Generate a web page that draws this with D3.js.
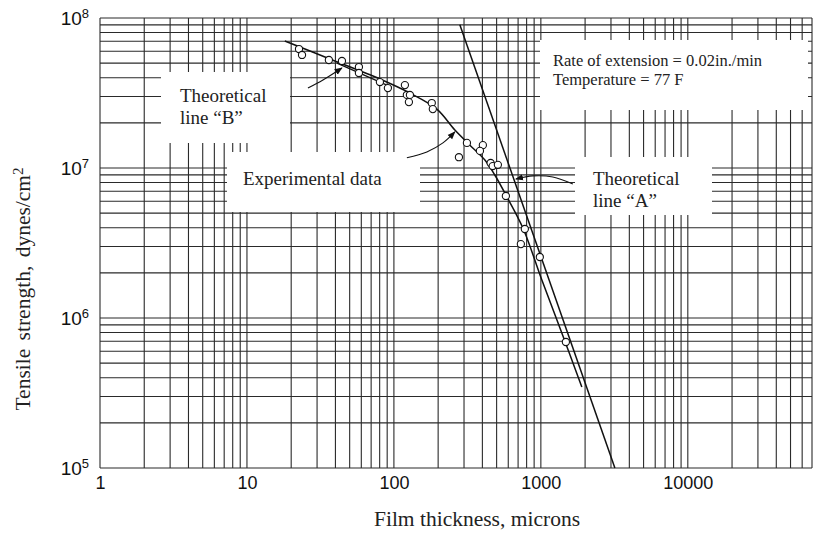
<!DOCTYPE html>
<html>
<head>
<meta charset="utf-8">
<script src="https://cdn.jsdelivr.net/npm/d3@7"></script>
<style>
  body { margin: 0; background: #fff; }
  svg { display: block; }
</style>
</head>
<body>
<svg id="chart" width="816" height="535"></svg>
<script>
// Experimental data points (film thickness in microns, tensile strength in dynes/cm2)
const pointX = [22.6, 23.7, 36.1, 44.3, 57.8, 57.8, 80.3, 91, 118.8, 122.5, 128.5, 126.5,
                181, 184, 314, 277, 403, 385, 455, 470, 510, 578, 778, 731, 984, 1480];
const pointY = [6.21e7, 5.67e7, 5.25e7, 5.17e7, 4.71e7, 4.30e7, 3.74e7, 3.41e7, 3.57e7, 3.07e7, 3.07e7, 2.75e7,
                2.71e7, 2.47e7, 1.47e7, 1.18e7, 1.42e7, 1.30e7, 1.08e7, 1.03e7, 1.05e7, 6.51e6, 3.92e6, 3.11e6, 2.55e6, 6.92e5];

// Experimental curve through the data
const curveX = [18.1, 36.7, 80.3, 128.5, 196, 260, 329, 416, 486, 578, 755, 1016, 1389, 1900];
const curveY = [7.03e7, 5.33e7, 3.92e7, 3.16e7, 2.47e7, 1.79e7, 1.42e7, 1.13e7, 8.98e6, 6.61e6, 3.98e6, 1.79e6, 7.94e5, 3.47e5];

// Theoretical lines
const lineAX = [281, 3190];
const lineAY = [9.0e7, 1.0e5];
const lineBX = [41, 97];
const lineBY = [5.0e7, 3.45e7];

// Annotation arrows (tail first, head last)
const arrowBX = [26.0, 32.9, 44.3];
const arrowBY = [3.41e7, 3.86e7, 4.64e7];
const arrowExpX = [122.5, 167.6, 215.6, 260];
const arrowExpY = [1.17e7, 1.28e7, 1.47e7, 1.74e7];
const arrowAX = [1651, 1207, 883, 676];
const arrowAY = [7.82e6, 8.71e6, 8.86e6, 8.45e6];

// Axis ticks
const xTicks = [1, 10, 100, 1000, 10000];
const yTicks = [1e5, 1e6, 1e7, 1e8];
const xMax = 70000;

const svg = d3.select("#chart");

const x = d3.scaleLog().domain([1, xMax]).range([100, 812]);
const y = d3.scaleLog().domain([1e5, 1e8]).range([468, 18]);

// Log grid lines (1..9 in every decade)
const xGrid = [];
for (let d = 1; d <= 10000; d *= 10) {
    for (let k = 1; k <= 9; k++) if (d * k <= xMax) xGrid.push(d * k);
}
const yGrid = [];
for (let d = 1e5; d <= 1e8; d *= 10) {
    for (let k = 1; k <= 9; k++) if (d * k <= 1e8) yGrid.push(d * k);
}

const grid = svg.append("g")
    .attr("stroke", "#2a2a2a")
    .attr("stroke-width", 1.1);

grid.selectAll(".gx")
    .data(xGrid)
    .enter().append("line")
    .attr("x1", d => x(d)).attr("x2", d => x(d))
    .attr("y1", y(1e8)).attr("y2", y(1e5));

grid.selectAll(".gy")
    .data(yGrid)
    .enter().append("line")
    .attr("x1", x(1)).attr("x2", x(xMax))
    .attr("y1", d => y(d)).attr("y2", d => y(d));

// White label boxes that blank out the grid
const boxes = [
    [161, 72, 129, 71],
    [227, 152, 193, 60],
    [540, 40, 268, 70],
    [575, 157, 137, 58]
];
svg.append("g").selectAll("rect")
    .data(boxes)
    .enter().append("rect")
    .attr("x", d => d[0]).attr("y", d => d[1])
    .attr("width", d => d[2]).attr("height", d => d[3])
    .attr("fill", "#fff");

// Lines
const line = d3.line().x(d => x(d[0])).y(d => y(d[1]));

svg.append("path")
    .datum(d3.zip(curveX, curveY))
    .attr("d", line.curve(d3.curveCatmullRom))
    .attr("fill", "none")
    .attr("stroke", "#111")
    .attr("stroke-width", 1.5);

svg.append("path")
    .datum(d3.zip(lineAX, lineAY))
    .attr("d", d3.line().x(d => x(d[0])).y(d => y(d[1])))
    .attr("fill", "none")
    .attr("stroke", "#111")
    .attr("stroke-width", 1.5);

svg.append("path")
    .datum(d3.zip(lineBX, lineBY))
    .attr("d", d3.line().x(d => x(d[0])).y(d => y(d[1])))
    .attr("fill", "none")
    .attr("stroke", "#111")
    .attr("stroke-width", 1.2);

// Arrow marker
svg.append("defs").append("marker")
    .attr("id", "arrow")
    .attr("viewBox", "0 0 10 10")
    .attr("refX", 9).attr("refY", 5)
    .attr("markerWidth", 8).attr("markerHeight", 8)
    .attr("markerUnits", "userSpaceOnUse")
    .attr("orient", "auto")
    .append("path")
    .attr("d", "M0,1L10,5L0,9Z")
    .attr("fill", "#111");

const arrowLine = d3.line().x(d => x(d[0])).y(d => y(d[1])).curve(d3.curveCatmullRom);
[[arrowBX, arrowBY], [arrowExpX, arrowExpY], [arrowAX, arrowAY]].forEach(a => {
    svg.append("path")
        .datum(d3.zip(a[0], a[1]))
        .attr("d", arrowLine)
        .attr("fill", "none")
        .attr("stroke", "#111")
        .attr("stroke-width", 1.1)
        .attr("marker-end", "url(#arrow)");
});

// Data points
svg.append("g").selectAll("circle")
    .data(d3.zip(pointX, pointY))
    .enter().append("circle")
    .attr("cx", d => x(d[0]))
    .attr("cy", d => y(d[1]))
    .attr("r", 3.6)
    .attr("fill", "#fff")
    .attr("stroke", "#111")
    .attr("stroke-width", 1.1);

// Axes
const xAxis = svg.append("g")
    .attr("transform", `translate(0,${y(1e5)})`)
    .call(d3.axisBottom(x).tickValues(xTicks).tickFormat(d3.format("d")).tickSize(0));
xAxis.select(".domain").remove();
xAxis.selectAll("text")
    .attr("y", 21).attr("dy", 0)
    .attr("fill", "#111")
    .style("font-family", "'Liberation Sans', Arial, sans-serif")
    .style("font-size", "18px");

const yAxis = svg.append("g")
    .attr("transform", `translate(${x(1)},0)`)
    .call(d3.axisLeft(y).tickValues(yTicks).tickSize(0));
yAxis.select(".domain").remove();
yAxis.selectAll("text")
    .attr("x", -11).attr("dy", "0.35em")
    .attr("fill", "#111")
    .style("font-family", "'Liberation Sans', Arial, sans-serif")
    .style("font-size", "19px")
    .each(function(d) {
        const t = d3.select(this).text("10");
        t.append("tspan")
            .attr("dy", "-0.55em")
            .style("font-size", "13px")
            .text(Math.round(Math.log10(d)));
    });

// Axis titles
const serif = "'Liberation Serif', 'Times New Roman', serif";
svg.append("text")
    .attr("x", 477).attr("y", 526)
    .attr("text-anchor", "middle")
    .style("font-family", serif).style("font-size", "21.5px").attr("fill", "#222")
    .text("Film thickness, microns");

const yTitle = svg.append("text")
    .attr("transform", "translate(30,289) rotate(-90)")
    .attr("text-anchor", "middle")
    .style("font-family", serif).style("font-size", "21.5px").style("word-spacing", "3px").attr("fill", "#222")
    .text("Tensile strength,  dynes/cm");
yTitle.append("tspan").attr("dy", "-0.5em").style("font-size", "15px").text("2");

// Labels in the boxes
const labels = [
    ["Theoretical", 180, 102, 19],
    ["line \u201CB\u201D", 180, 124, 19],
    ["Experimental data", 243, 185, 19],
    ["Rate of extension = 0.02in./min", 553, 66, 16.5],
    ["Temperature = 77 F", 553, 85, 16.5],
    ["Theoretical", 593, 185, 19],
    ["line \u201CA\u201D", 593, 207, 19]
];
svg.append("g").selectAll("text")
    .data(labels)
    .enter().append("text")
    .attr("x", d => d[1]).attr("y", d => d[2])
    .style("font-family", serif)
    .style("font-size", d => d[3] + "px")
    .attr("fill", "#222")
    .text(d => d[0]);
</script>
</body>
</html>
